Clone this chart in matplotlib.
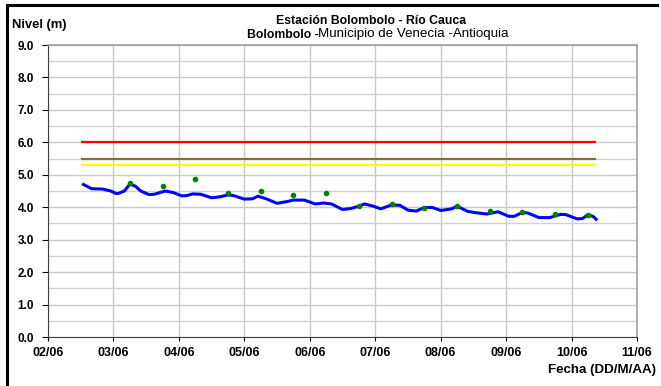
import matplotlib.pyplot as plt
import matplotlib.dates as mdates
from matplotlib.ticker import MultipleLocator
from matplotlib.lines import Line2D
from datetime import datetime, timedelta

plt.rcParams['font.family'] = ['Liberation Sans', 'DejaVu Sans']

inicio = datetime(2011, 6, 2)

# nivel del sensor (horas desde 02/06 00:00, metros)
nivel_horas = [13, 16, 20, 23, 25, 26, 28, 30, 32, 34, 37, 39, 43, 46, 49, 51, 53, 56,
               60, 63, 66, 68, 72, 75, 77, 80, 84, 88, 90, 94, 98, 101, 104, 108, 111,
               114, 116, 119, 122, 126, 129, 132, 135, 138, 141, 144, 148, 150, 154,
               157, 161, 165, 169, 171, 174, 176, 180, 184, 188, 190, 194, 196, 198,
               200, 201]
nivel_vals = [4.70, 4.57, 4.56, 4.50, 4.42, 4.43, 4.50, 4.71, 4.65, 4.50, 4.39, 4.40,
              4.50, 4.45, 4.35, 4.36, 4.41, 4.40, 4.29, 4.32, 4.38, 4.36, 4.25, 4.26,
              4.34, 4.26, 4.12, 4.18, 4.22, 4.22, 4.10, 4.13, 4.10, 3.93, 3.96, 4.03,
              4.10, 4.04, 3.95, 4.07, 4.06, 3.91, 3.88, 3.99, 3.99, 3.90, 3.95, 4.03,
              3.87, 3.83, 3.79, 3.86, 3.72, 3.72, 3.84, 3.82, 3.68, 3.68, 3.78, 3.77,
              3.64, 3.65, 3.77, 3.71, 3.63]

# lecturas de mira (06:00 y 18:00)
mira_horas = [30, 42, 54, 66, 78, 90, 102, 114, 126, 138, 150, 162, 174, 186, 198]
mira_vals = [4.74, 4.65, 4.86, 4.43, 4.49, 4.37, 4.43, 4.03, 4.09, 3.97, 4.03, 3.88,
             3.85, 3.78, 3.75]

# umbrales de alerta
umbrales = [6.0, 5.5, 5.3]
colores_umbral = ['#FF0000', '#996633', '#FFFF00']
umbral_horas = [12, 201]

t_nivel = [inicio + timedelta(hours=h) for h in nivel_horas]
t_mira = [inicio + timedelta(hours=h) for h in mira_horas]
t_umbral = [inicio + timedelta(hours=h) for h in umbral_horas]

fig = plt.figure(figsize=(6.61, 3.86), dpi=100)
ax = fig.add_axes([48 / 661, 1 - 337 / 386, 589 / 661, 292 / 386])

for u, c in zip(umbrales, colores_umbral):
    ax.plot(t_umbral, [u, u], color=c, lw=1.6, solid_capstyle='butt', zorder=3)

ax.plot(t_nivel, nivel_vals, color='#0000FF', lw=2.2, zorder=4)
ax.plot(t_mira, mira_vals, 'o', color='#008000', ms=3, mec='#008000', zorder=5)

ax.set_xlim(inicio, inicio + timedelta(days=9))
ax.set_ylim(0, 9)
ax.xaxis.set_major_locator(mdates.DayLocator())
ax.xaxis.set_major_formatter(mdates.DateFormatter('%d/%m'))
ax.yaxis.set_major_locator(MultipleLocator(1))
ax.yaxis.set_minor_locator(MultipleLocator(0.5))
ax.yaxis.set_major_formatter(lambda v, p: f'{v:.1f}')

ax.grid(True, which='major', color='#C8C8C8', lw=1.0)
ax.grid(True, which='minor', axis='y', color='#D0D0D0', lw=1.0)
ax.set_axisbelow(True)
ax.tick_params(axis='y', which='minor', length=0)
ax.tick_params(axis='x', which='major', length=3, width=0.8, color='black', labelsize=9, pad=4)
ax.tick_params(axis='y', which='major', length=4, width=0.8, color='black', labelsize=8.5, pad=6)
for lab in ax.get_xticklabels() + ax.get_yticklabels():
    lab.set_fontweight('bold')

for s in ['top', 'right']:
    ax.spines[s].set_color('#A0A0A0')
    ax.spines[s].set_linewidth(1.2)
for s in ['left', 'bottom']:
    ax.spines[s].set_color('#404040')
    ax.spines[s].set_linewidth(0.8)

fig.text(371 / 661, 1 - 21.5 / 386, 'Estación Bolombolo - Río Cauca', ha='center', va='center',
         fontsize=8.8, fontweight='bold')
fig.text(247 / 661, 1 - 34.5 / 386, 'Bolombolo -', ha='left', va='center',
         fontsize=8.8, fontweight='bold')
fig.text(318 / 661, 1 - 34.5 / 386, 'Municipio de Venecia -Antioquia', ha='left', va='center',
         fontsize=9.6)
fig.text(12 / 661, 1 - 25 / 386, 'Nivel (m)', ha='left', va='center', fontsize=9.4,
         fontweight='bold')
fig.text(656 / 661, 1 - 370 / 386, 'Fecha (DD/M/AA)', ha='right', va='center', fontsize=9.6,
         fontweight='bold')

# marco negro del grafico
fig.add_artist(Line2D([7 / 661, 7 / 661], [0, 1 - 5 / 386], color='black', lw=2.2,
                      transform=fig.transFigure))
fig.add_artist(Line2D([7 / 661, 657 / 661], [1 - 5 / 386, 1 - 5 / 386], color='black', lw=2.2,
                      transform=fig.transFigure))

plt.savefig('out.png', dpi=100)
